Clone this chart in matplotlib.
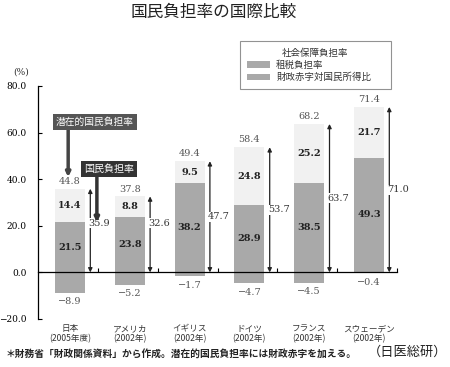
import matplotlib
matplotlib.use("Agg")
import matplotlib.pyplot as plt
from matplotlib.patches import Patch
import numpy as np

plt.rcParams['font.family'] = ['Noto Sans CJK JP', 'DejaVu Sans']

countries = ["日本", "アメリカ", "イギリス", "ドイツ", "フランス", "スウェーデン"]
years = ["(2005年度)", "(2002年)", "(2002年)", "(2002年)", "(2002年)", "(2002年)"]
tax = [21.5, 23.8, 38.2, 28.9, 38.5, 49.3]
social = [14.4, 8.8, 9.5, 24.8, 25.2, 21.7]
deficit = [-8.9, -5.2, -1.7, -4.7, -4.5, -0.4]
national = [35.9, 32.6, 47.7, 53.7, 63.7, 71.0]
potential = [44.8, 37.8, 49.4, 58.4, 68.2, 71.4]
yticks = [-20, 0, 20, 40, 60, 80]

C_TAX = "#a9a9a9"
C_SOC = "#f1f1f1"
C_DEF = "#a9a9a9"
SERIF = "DejaVu Serif"

fig = plt.figure(figsize=(4.5, 3.67), dpi=100)
ax = fig.add_axes([0.0844, 0.1308, 0.798, 0.6349])

x = np.arange(len(countries))
w = 0.5
ax.bar(x, tax, w, color=C_TAX, zorder=2)
ax.bar(x, social, w, bottom=tax, color=C_SOC, zorder=2)
ax.bar(x, deficit, w, color=C_DEF, zorder=2)

ax.set_xlim(-0.535, 5.47)
ax.set_ylim(-20, 80)

for s in ["top", "right"]:
    ax.spines[s].set_visible(False)
ax.spines["bottom"].set_position(("data", 0))
ax.spines["left"].set_linewidth(0.9)
ax.spines["bottom"].set_linewidth(0.9)
ax.set_yticks(yticks)
ax.set_yticklabels([f"{v:.1f}".replace("-", "\u2212") for v in yticks],
                   fontsize=6.5, family=SERIF)
ax.tick_params(axis="y", direction="in", length=3, width=0.8, pad=8)
ax.set_xticks(x + 0.47)
ax.set_xticklabels([])
ax.tick_params(axis="x", direction="in", length=3, width=0.8)

ax_off = 0.34
for i in range(len(countries)):
    t, s, d, n, p = tax[i], social[i], deficit[i], national[i], potential[i]
    ax.text(i, t / 2, f"{t:.1f}", ha="center", va="center", fontsize=7,
            fontweight="bold", family=SERIF, color="#222222", zorder=3)
    ax.text(i, t + s / 2, f"{s:.1f}", ha="center", va="center", fontsize=7,
            fontweight="bold", family=SERIF, color="#222222", zorder=3)
    ax.text(i, n + 1.2, f"{p:.1f}", ha="center", va="bottom", fontsize=7,
            family=SERIF, color="#555555", zorder=3)
    ax.text(i, d - 1.8, f"\u2212{abs(d):.1f}", ha="center", va="top", fontsize=7,
            family=SERIF, color="#555555", zorder=3)
    ax.annotate("", xy=(i + ax_off, n), xytext=(i + ax_off, 0),
                arrowprops=dict(arrowstyle="<|-|>", color="#222222", lw=0.9,
                                mutation_scale=6, shrinkA=0, shrinkB=0), zorder=3)
    ax.text(i + ax_off - 0.03, max(n / 2, 21), f"{n:.1f}", ha="left", va="center",
            fontsize=7, family=SERIF, color="#333333", zorder=4,
            bbox=dict(boxstyle="square,pad=0.05", fc="white", ec="none"))
    ax.text(i, -22.3, countries[i] + "\n" + years[i], ha="center", va="top",
            fontsize=6.2, linespacing=1.05, color="#333333", clip_on=False)

# callout boxes
ax.annotate("", xy=(-0.03, 40.9), xytext=(-0.03, 62),
            arrowprops=dict(arrowstyle="-|>", color="#444444", lw=2.5,
                            mutation_scale=6, shrinkA=0, shrinkB=0), zorder=4)
ax.text(0.42, 64.7, "潜在的国民負担率", ha="center", va="center", fontsize=7,
        color="white", zorder=5,
        bbox=dict(boxstyle="square,pad=0.3", fc="#555555", ec="none"))
ax.annotate("", xy=(0.45, 21.5), xytext=(0.45, 41.3),
            arrowprops=dict(arrowstyle="-|>", color="#333333", lw=2.5,
                            mutation_scale=6, shrinkA=0, shrinkB=0), zorder=4)
ax.text(0.66, 44.3, "国民負担率", ha="center", va="center", fontsize=7.2,
        color="white", zorder=5,
        bbox=dict(boxstyle="square,pad=0.3", fc="#333333", ec="none"))

# legend
handles = [Patch(fc=C_TAX, ec="none", label="租税負担率"),
           Patch(fc=C_DEF, ec="none", label="財政赤字対国民所得比")]
leg = fig.legend(handles=handles, title="社会保障負担率", loc="upper left",
                 bbox_to_anchor=(0.533, 0.763, 0.336, 0.125), mode="expand",
                 fontsize=6.8, title_fontsize=6.8,
                 frameon=True, fancybox=False, edgecolor="#777777",
                 handlelength=2.4, handleheight=0.7, borderpad=0.75,
                 labelspacing=0.3, handletextpad=0.7, borderaxespad=0)
leg.get_frame().set_linewidth(0.8)
for txt in leg.get_texts():
    txt.set_color("#333333")
leg.get_title().set_color("#333333")

fig.text(0.03, 0.797, "(%)", fontsize=6.5, family=SERIF, color="#333333")
fig.text(0.474, 0.965, "国民負担率の国際比較", ha="center", va="center",
         fontsize=12, color="#222222")
fig.text(0.012, 0.035, "＊財務省「財政関係資料」から作成。潜在的国民負担率には財政赤字を加える。",
         ha="left", va="center", fontsize=7, color="#222222", fontweight="bold")
fig.text(0.995, 0.04, "（日医総研）", ha="right", va="center", fontsize=9.5,
         color="#222222")

fig.savefig("out.png", dpi=100)
